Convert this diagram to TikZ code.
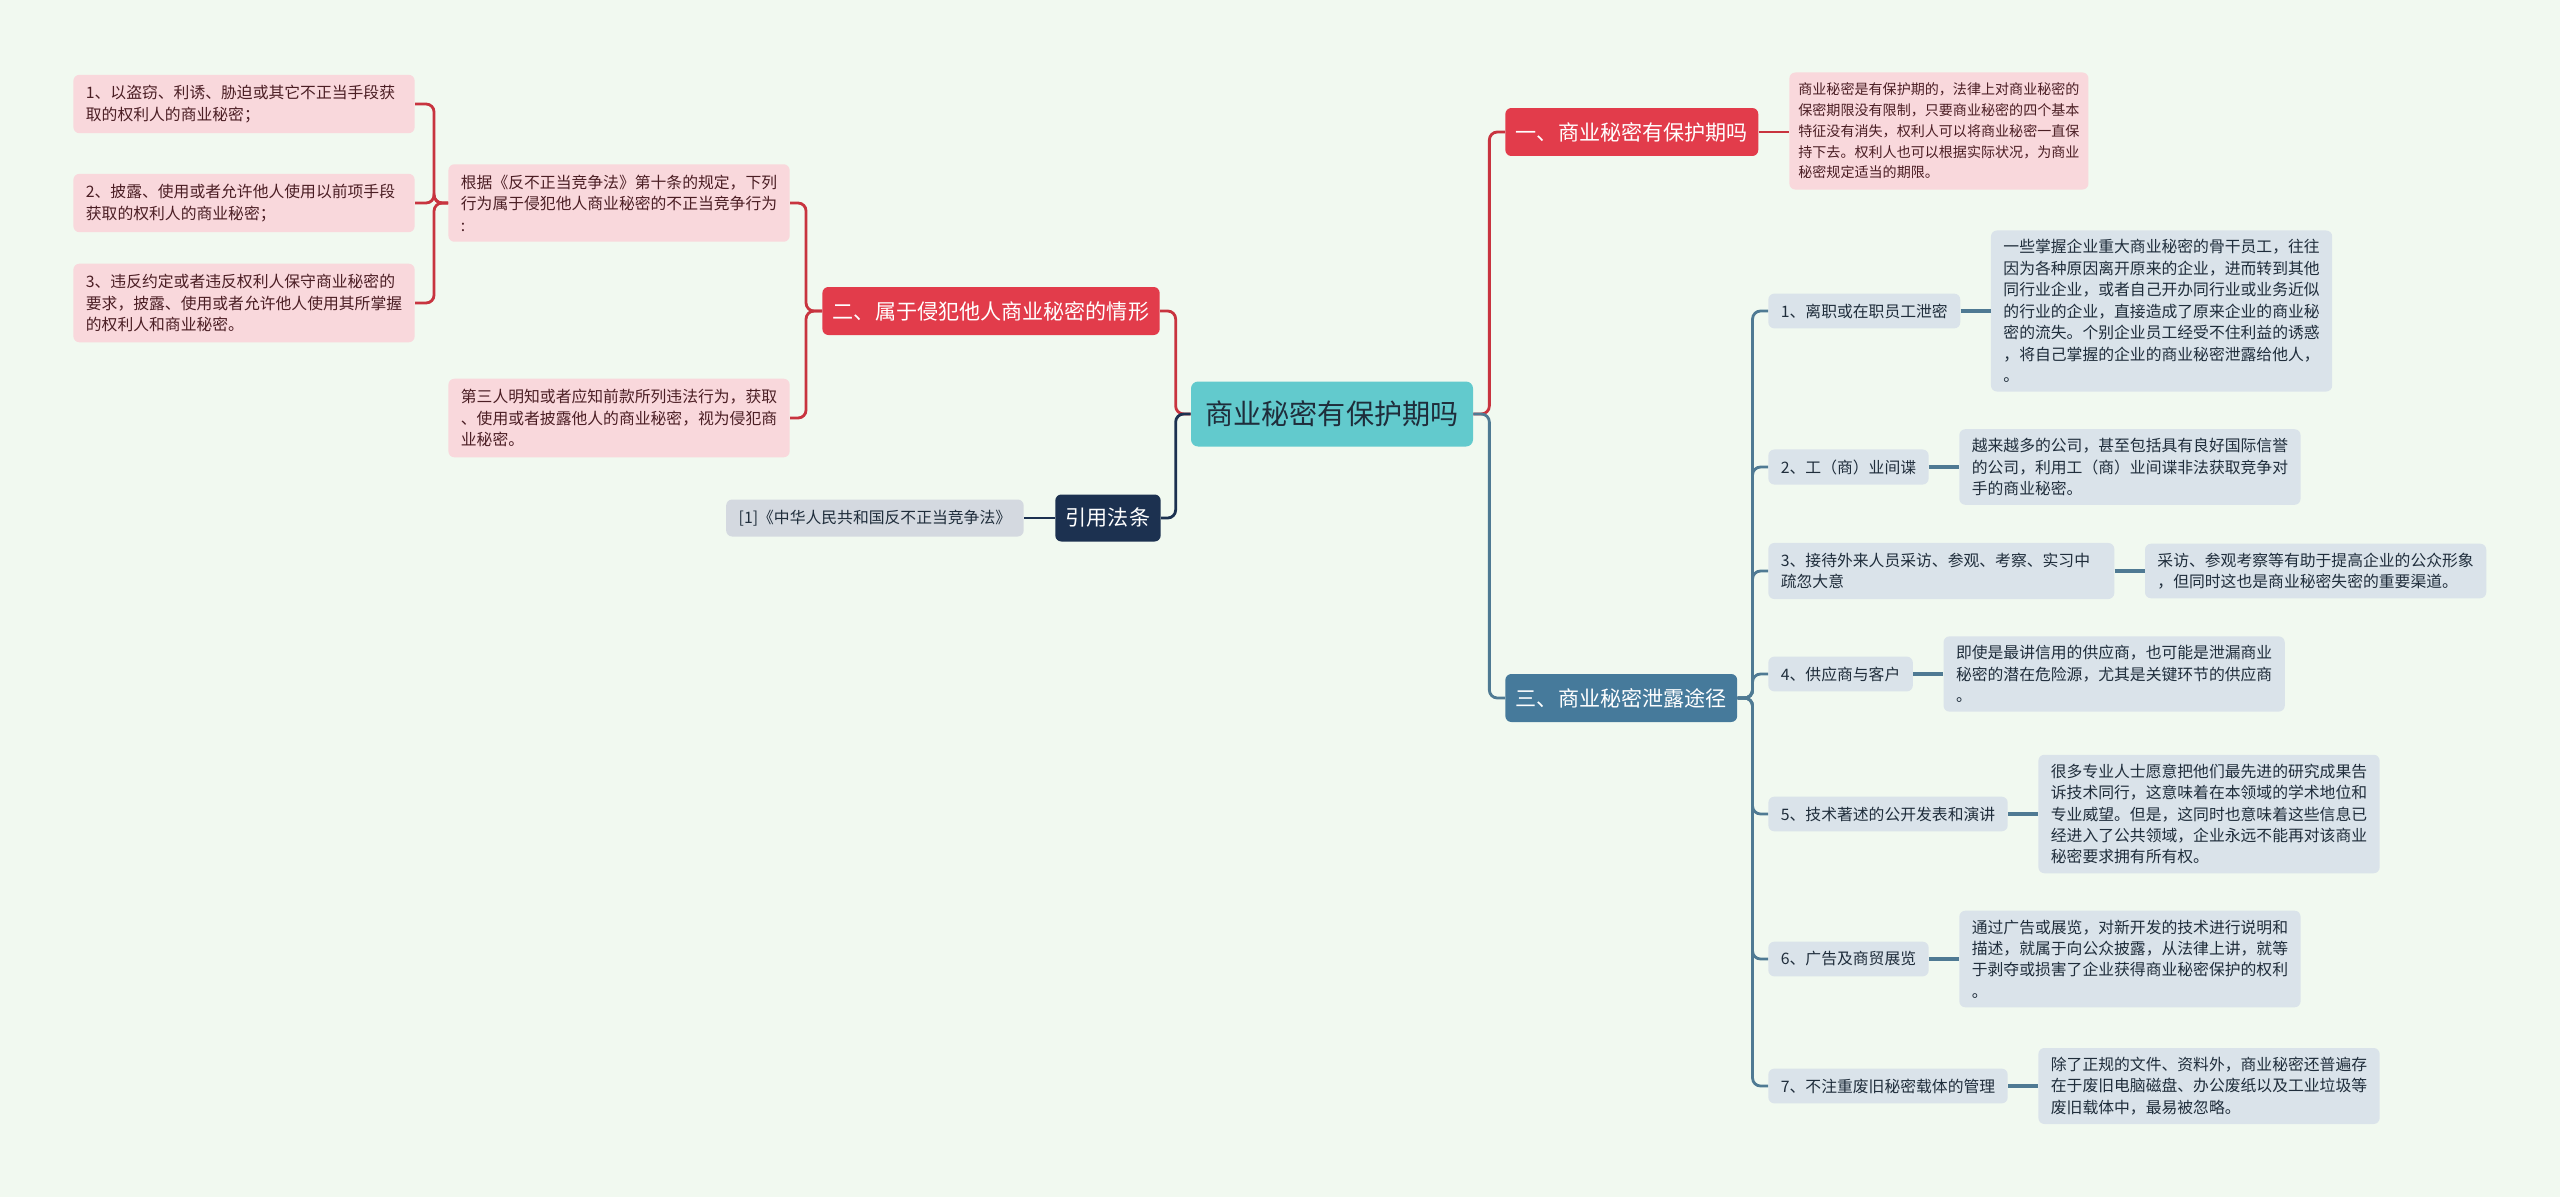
\documentclass[tikz,border=0pt]{standalone}
\usepackage{fontspec}
\setmainfont{Noto Sans CJK SC}
\usetikzlibrary{positioning}
\definecolor{MapBg}{HTML}{F1F9F0}
\definecolor{MapTeal}{HTML}{62CACD}
\definecolor{MapRed}{HTML}{E23C4B}
\definecolor{MapRedLine}{HTML}{C8343F}
\definecolor{MapPink}{HTML}{F9D8DC}
\definecolor{MapPinkInk}{HTML}{4B1E24}
\definecolor{MapBlue}{HTML}{467A9B}
\definecolor{MapBlueLine}{HTML}{4F7A93}
\definecolor{MapGrey}{HTML}{DAE3EA}
\definecolor{MapInk}{HTML}{1F2D3B}
\definecolor{MapNavy}{HTML}{1C3150}
\definecolor{MapCite}{HTML}{D4D9E0}

\begin{document}
\begin{tikzpicture}[x=0.02cm,y=-0.02cm,
  box/.style={rounded corners=1.2mm,align=left,inner xsep=2.5mm,inner ysep=1.8mm,font=\fontsize{9pt}{12.2pt}\selectfont},
  pinkbox/.style={box,fill=MapPink,text=MapPinkInk,text width=180pt,inner ysep=2.1mm},
  greybox/.style={box,fill=MapGrey,text=MapInk},
  waybox3/.style={text width=64.2mm},
  topic/.style={rounded corners=1.2mm,inner xsep=2.1mm,minimum height=9.6mm,text=white,font=\fontsize{12pt}{14pt}\selectfont},
  redline/.style={MapRedLine,line width=1.6pt,rounded corners=1.6mm},
  blueline/.style={MapBlueLine,line width=1.6pt,rounded corners=1.6mm},
  navyline/.style={MapNavy,line width=1.6pt,rounded corners=1.6mm}]
  \useasboundingbox[fill=MapBg] (0,0) rectangle (2560,1197);
  \node[fill=MapTeal,text=MapInk,rounded corners=1.4mm,inner xsep=2.9mm,minimum height=13mm,font=\fontsize{16pt}{18pt}\selectfont] (root) at (1332,414) {商业秘密有保护期吗};
  \node[topic,fill=MapRed,anchor=west] (period) at (1505,132) {一、商业秘密有保护期吗};
  \node[pinkbox,text width=160pt,inner xsep=1.8mm,inner ysep=2.1mm,font=\fontsize{8pt}{11.8pt}\selectfont,anchor=west] (perioddesc) at (1789,131) {商业秘密是有保护期的，法律上对商业秘密的\\保密期限没有限制，只要商业秘密的四个基本\\特征没有消失，权利人可以将商业秘密一直保\\持下去。权利人也可以根据实际状况，为商业\\秘密规定适当的期限。};
  \node[topic,fill=MapBlue,anchor=west] (leak) at (1505,698) {三、商业秘密泄露途径};
  \node[topic,fill=MapRed,anchor=east] (infringe) at (1160,311) {二、属于侵犯他人商业秘密的情形};
  \node[topic,fill=MapNavy,minimum height=9.4mm,anchor=east] (law) at (1161,518) {引用法条};
  \node[box,fill=MapCite,text=MapInk,minimum height=7.4mm,anchor=east] (cite) at (1024,518) {[1]《中华人民共和国反不正当竞争法》};
  \node[pinkbox,anchor=east] (clause) at (790,203) {根据《反不正当竞争法》第十条的规定，下列\\行为属于侵犯他人商业秘密的不正当竞争行为\\:};
  \node[pinkbox,anchor=east] (third) at (790,418) {第三人明知或者应知前款所列违法行为，获取\\、使用或者披露他人的商业秘密，视为侵犯商\\业秘密。};
  \draw[redline] (root.east) -- ++(16,0) |- (period.west);
  \draw[redline] (period.east) -- (period.east -| perioddesc.west);
  \draw[blueline] (root.east) -- ++(16,0) |- (leak.west);
  \draw[redline] (root.west) -- ++(-15,0) |- (infringe.east);
  \draw[navyline] (root.west) -- ++(-15,0) |- (law.east);
  \draw[navyline] (law.west) -- (cite.east);
  \draw[redline] (infringe.west) -- ++(-16,0) |- (clause.east);
  \draw[redline] (infringe.west) -- ++(-16,0) |- (third.east);
  \foreach \i/\y/\txt in {
    1/104/{1、以盗窃、利诱、胁迫或其它不正当手段获\\取的权利人的商业秘密；},
    2/203/{2、披露、使用或者允许他人使用以前项手段\\获取的权利人的商业秘密；},
    3/303/{3、违反约定或者违反权利人保守商业秘密的\\要求，披露、使用或者允许他人使用其所掌握\\的权利人和商业秘密。}}{
    \node[pinkbox,anchor=east] (act\i) at (415,\y) {\txt};
    \draw[redline] (clause.west) -- ++(-14,0) |- (act\i.east);}
  \foreach \i/\y/\lab/\txt in {
    1/311/{1、离职或在职员工泄密}/{一些掌握企业重大商业秘密的骨干员工，往往\\因为各种原因离开原来的企业，进而转到其他\\同行业企业，或者自己开办同行业或业务近似\\的行业的企业，直接造成了原来企业的商业秘\\密的流失。个别企业员工经受不住利益的诱惑\\，将自己掌握的企业的商业秘密泄露给他人，\\。},
    2/467/{2、工（商）业间谍}/{越来越多的公司，甚至包括具有良好国际信誉\\的公司，利用工（商）业间谍非法获取竞争对\\手的商业秘密。},
    3/571/{3、接待外来人员采访、参观、考察、实习中\\疏忽大意}/{采访、参观考察等有助于提高企业的公众形象\\，但同时这也是商业秘密失密的重要渠道。},
    4/674/{4、供应商与客户}/{即使是最讲信用的供应商，也可能是泄漏商业\\秘密的潜在危险源，尤其是关键环节的供应商\\。},
    5/814/{5、技术著述的公开发表和演讲}/{很多专业人士愿意把他们最先进的研究成果告\\诉技术同行，这意味着在本领域的学术地位和\\专业威望。但是，这同时也意味着这些信息已\\经进入了公共领域，企业永远不能再对该商业\\秘密要求拥有所有权。},
    6/959/{6、广告及商贸展览}/{通过广告或展览，对新开发的技术进行说明和\\描述，就属于向公众披露，从法律上讲，就等\\于剥夺或损害了企业获得商业秘密保护的权利\\。},
    7/1086/{7、不注重废旧秘密载体的管理}/{除了正规的文件、资料外，商业秘密还普遍存\\在于废旧电脑磁盘、办公废纸以及工业垃圾等\\废旧载体中，最易被忽略。}}{
    \node[greybox,inner ysep=2mm,waybox\i/.try,anchor=west] (way\i) at (1768,\y) {\lab};
    \node[greybox,text width=180pt,right=6mm of way\i] (waydesc\i) {\txt};
    \draw[blueline] (leak.east) -- ++(15,0) |- (way\i.west);
    \draw[blueline,line width=2.2pt] (way\i.east) -- (waydesc\i.west);}
\end{tikzpicture}
\end{document}
